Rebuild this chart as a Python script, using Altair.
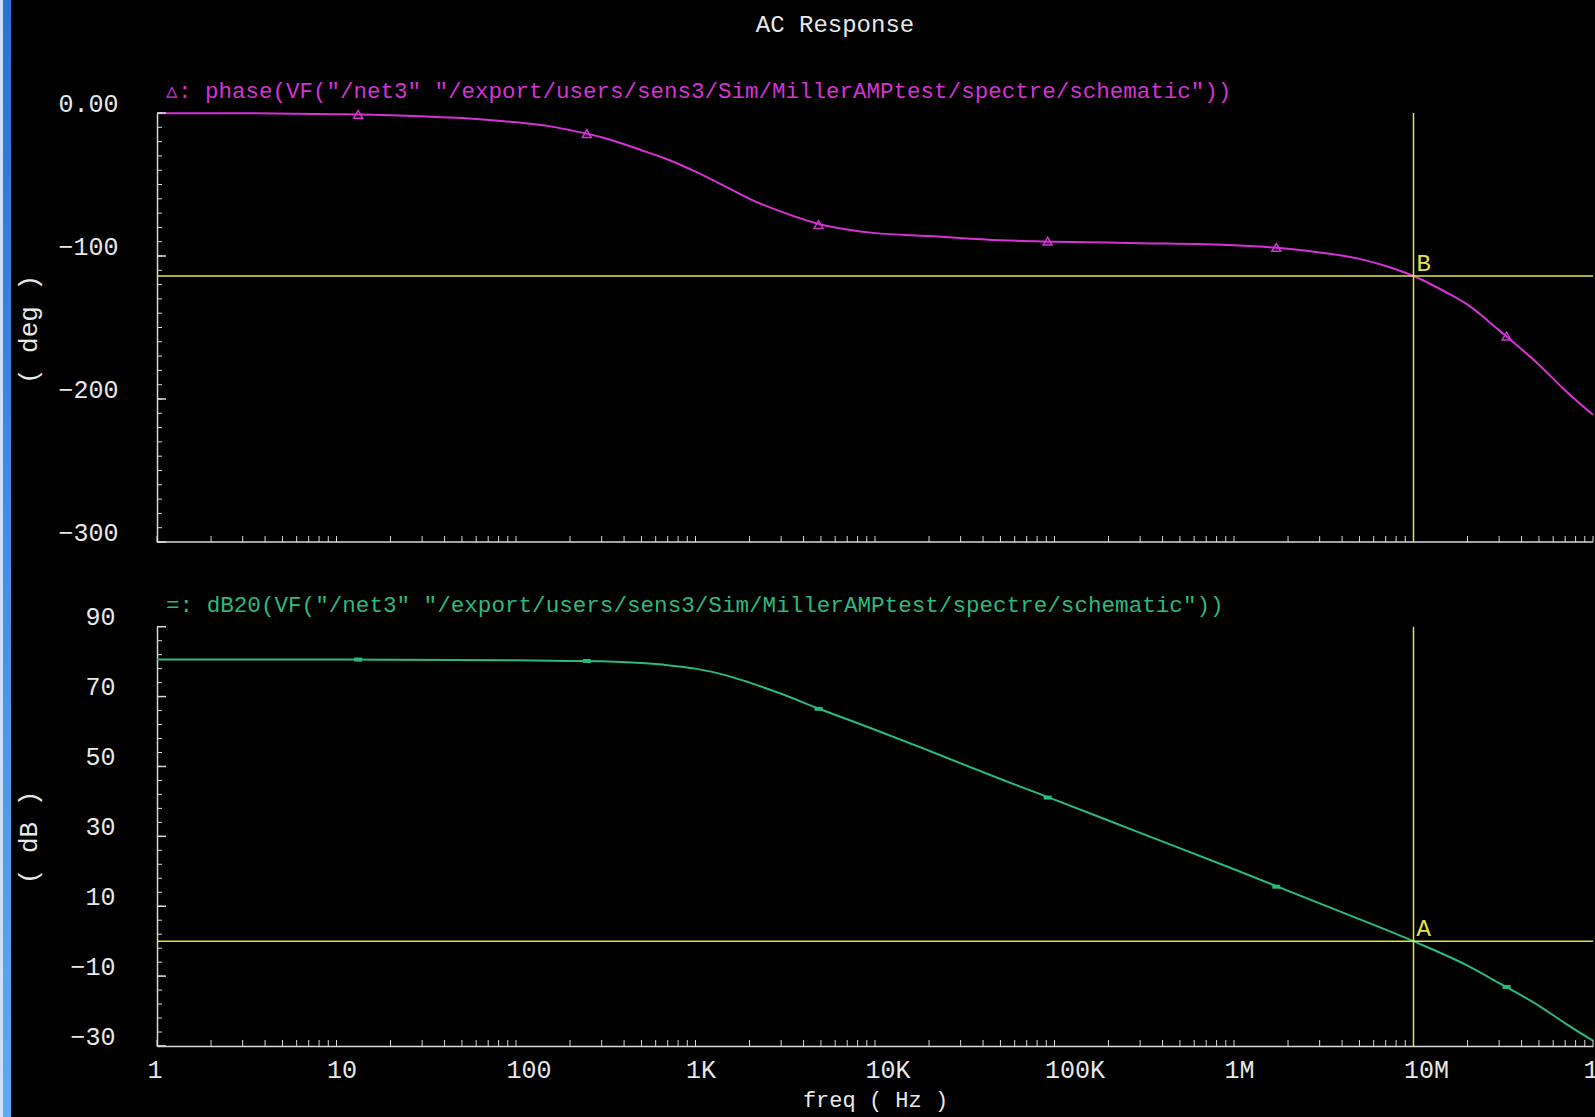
import altair as alt
import pandas as pd

# ---------------- text ----------------
TITLE = "AC Response"
PHASE_LEGEND = '▵: phase(VF("/net3" "/export/users/sens3/Sim/MillerAMPtest/spectre/schematic"))'
DB_LEGEND = '=: dB20(VF("/net3" "/export/users/sens3/Sim/MillerAMPtest/spectre/schematic"))'
X_TITLE = "freq ( Hz )"
PHASE_TITLE = "( deg )"
DB_TITLE = "( dB )"

# ---------------- data ----------------
phase_freq = [1, 3, 10, 20, 30, 50, 100, 150, 200, 300, 500, 700, 1000, 1500, 2000,
              3000, 5000, 7000, 10000, 20000, 50000, 100000, 300000, 1e6, 2e6, 3e6,
              5e6, 7e6, 1e7, 1.5e7, 2e7, 3e7, 5e7, 7e7, 1e8]
phase_deg = [-0.1, -0.2, -0.8, -1.5, -2.3, -3.5, -6.5, -9, -12, -17, -26, -32.5, -41, -52, -60,
             -69, -78, -81.5, -84, -86, -89, -90, -91, -92.5, -95, -97.5,
             -102, -107, -114, -125, -134, -152, -176, -194, -211]

db_freq = [1, 10, 100, 200, 300, 500, 700, 1000, 1500, 2000, 3000, 5000, 7000, 10000,
           20000, 50000, 100000, 300000, 1e6, 3e6, 1e7, 2e7, 3e7, 5e7, 7e7, 1e8]
db_val = [80.6, 80.6, 80.4, 80.2, 80.1, 79.6, 79.0, 78.0, 76.0, 74.0, 70.8, 66.3, 63.5, 60.5,
          54.5, 46.4, 40.5, 31.0, 20.6, 10.8, 0.0, -7.0, -12.0, -18.5, -23.5, -28.5]

marker_freq = [13.2, 248, 4850, 91600, 1.72e6, 3.3e7]
phase_marker = [-0.9, -14.5, -78, -89.6, -94, -156]
db_marker = [80.6, 80.2, 66.5, 41.1, 15.6, -13.1]

x_tick_values = [1, 10, 100, 1000, 10000, 100000, 1000000, 10000000, 100000000]
x_tick_labels = ["1", "10", "100", "1K", "10K", "100K", "1M", "10M", "100M"]
phase_tick_values = [0, -100, -200, -300]
phase_tick_labels = ["0.00", "−100", "−200", "−300"]
db_tick_values = [90, 70, 50, 30, 10, -10, -30]
db_tick_labels = ["90", "70", "50", "30", "10", "−10", "−30"]

x_minor = [m * 10 ** k for k in range(8) for m in range(1, 10)] + [100000000]
phase_minor = list(range(-300, 1, 10))
db_minor = list(range(-30, 91, 4))

cursor_freq = 1e7
cursor_phase = -114
cursor_db = 0

# ---------------- style ----------------
W, H = 1436, 933
PH_BOTTOM = 429
DB_TOP = 513.7
MAG = "#d632d6"
GRN = "#2cba7c"
YEL = "#e4e44a"
AX = "#d8d8d8"
TXT = "#e8e8e8"
FONT = "Liberation Mono"


def expr_from(values, labels):
    parts = [f"datum.value == {v} ? '{l}'" for v, l in zip(values, labels)]
    return " : ".join(parts) + " : ''"


X_SCALE = alt.Scale(type="log", domain=[1, 1e8], nice=False)
PH_SCALE = alt.Scale(domain=[-300, 0], range=[PH_BOTTOM, 0], nice=False, zero=False)
DB_SCALE = alt.Scale(domain=[-30, 90], range=[H, DB_TOP], nice=False, zero=False)

X_AXIS = alt.Axis(values=x_tick_values, labelExpr=expr_from(x_tick_values, x_tick_labels),
                  title=X_TITLE, orient="bottom", ticks=False, grid=False, domainColor=AX,
                  domainWidth=1.5, labelColor=TXT, labelFont=FONT, labelFontSize=25,
                  labelAlign="left", labelOffset=-10, labelPadding=11, labelFlush=False,
                  labelOverlap=False, labelBound=False, titleColor=TXT, titleFont=FONT,
                  titleFontSize=22, titleFontWeight="normal", titleY=53,
                  titleBaseline="middle")

PH_AXIS = alt.Axis(values=phase_tick_values,
                   labelExpr=expr_from(phase_tick_values, phase_tick_labels),
                   title=PHASE_TITLE, orient="left", ticks=False, grid=False,
                   domainColor=AX, domainWidth=1.5, labelColor=TXT, labelFont=FONT,
                   labelFontSize=25, labelPadding=39, labelOffset=-10, labelOverlap=False,
                   titleColor=TXT, titleFont=FONT, titleFontSize=26,
                   titleFontWeight="normal", titleX=-129, titleY=216, titleAngle=270,
                   titleAlign="center", titleBaseline="middle")

DB_AXIS = alt.Axis(values=db_tick_values,
                   labelExpr=expr_from(db_tick_values, db_tick_labels),
                   title=DB_TITLE, orient="left", ticks=False, grid=False,
                   domainColor=AX, domainWidth=1.5, labelColor=TXT, labelFont=FONT,
                   labelFontSize=25, labelPadding=42, labelOffset=-10, labelOverlap=False,
                   titleColor=TXT, titleFont=FONT, titleFontSize=26,
                   titleFontWeight="normal", titleX=-129, titleY=724, titleAngle=270,
                   titleAlign="center", titleBaseline="middle")

phase_df = pd.DataFrame({"freq": phase_freq, "phase": phase_deg})
db_df = pd.DataFrame({"freq": db_freq, "db": db_val})
mk_df = pd.DataFrame({"freq": marker_freq, "phase": phase_marker, "db": db_marker})
one = pd.DataFrame({"k": [0]})

# ---------------- phase panel ----------------
ph_line = alt.Chart(phase_df).mark_line(color=MAG, strokeWidth=2, interpolate="monotone").encode(
    x=alt.X("freq:Q", scale=X_SCALE, axis=None),
    y=alt.Y("phase:Q", scale=PH_SCALE, axis=PH_AXIS),
)
ph_marks = alt.Chart(mk_df).mark_point(shape="triangle-up", filled=False, color=MAG,
                                         size=80, strokeWidth=1.5, opacity=1).encode(
    x=alt.X("freq:Q", scale=X_SCALE, axis=None),
    y=alt.Y("phase:Q", scale=PH_SCALE, axis=None),
)
ph_minor_ticks = alt.Chart(pd.DataFrame({"v": phase_minor})).mark_rule(color=AX, strokeWidth=1).encode(
    y=alt.Y("v:Q", scale=PH_SCALE, axis=None), x=alt.value(0), x2=alt.value(5))
ph_major_ticks = alt.Chart(pd.DataFrame({"v": phase_tick_values})).mark_rule(color=AX, strokeWidth=1.5).encode(
    y=alt.Y("v:Q", scale=PH_SCALE, axis=None), x=alt.value(0), x2=alt.value(9))
ph_x_ticks = alt.Chart(pd.DataFrame({"f": x_minor})).mark_rule(color=AX, strokeWidth=1).encode(
    x=alt.X("f:Q", scale=X_SCALE, axis=None), y=alt.value(PH_BOTTOM), y2=alt.value(PH_BOTTOM - 6))
ph_bottom = alt.Chart(one).mark_rule(color=AX, strokeWidth=1.5).encode(
    y=alt.Y(datum=-300, type="quantitative", scale=PH_SCALE, axis=None))
ph_hcursor = alt.Chart(one).mark_rule(color=YEL, strokeWidth=1.5).encode(
    y=alt.Y(datum=cursor_phase, type="quantitative", scale=PH_SCALE, axis=None))
ph_vcursor = alt.Chart(one).mark_rule(color=YEL, strokeWidth=1.5).encode(
    x=alt.X(datum=cursor_freq, type="quantitative", scale=X_SCALE, axis=None),
    y=alt.Y(datum=0, type="quantitative", scale=PH_SCALE, axis=None),
    y2=alt.Y2(datum=-300))
ph_label = alt.Chart(one).mark_text(color=YEL, font=FONT, fontSize=24, align="left",
                                    baseline="bottom", dx=3, dy=0).encode(
    x=alt.X(datum=cursor_freq, type="quantitative", scale=X_SCALE, axis=None),
    y=alt.Y(datum=cursor_phase, type="quantitative", scale=PH_SCALE, axis=None),
    text=alt.value("B"))
ph_legend = alt.Chart(one).mark_text(color=MAG, font=FONT, fontSize=22.5, align="left",
                                     baseline="middle").encode(
    x=alt.value(9), y=alt.value(-22.5), text=alt.value(PHASE_LEGEND))

# ---------------- dB panel ----------------
db_line = alt.Chart(db_df).mark_line(color=GRN, strokeWidth=2, interpolate="monotone").encode(
    x=alt.X("freq:Q", scale=X_SCALE, axis=X_AXIS),
    y=alt.Y("db:Q", scale=DB_SCALE, axis=DB_AXIS),
)
db_marks = alt.Chart(mk_df).mark_point(shape="M-1,-0.5L1,-0.5L1,0.5L-1,0.5Z", filled=True,
                                         color=GRN, size=64, opacity=1).encode(
    x=alt.X("freq:Q", scale=X_SCALE, axis=None),
    y=alt.Y("db:Q", scale=DB_SCALE, axis=None),
)
db_minor_ticks = alt.Chart(pd.DataFrame({"v": db_minor})).mark_rule(color=AX, strokeWidth=1).encode(
    y=alt.Y("v:Q", scale=DB_SCALE, axis=None), x=alt.value(0), x2=alt.value(5))
db_major_ticks = alt.Chart(pd.DataFrame({"v": db_tick_values})).mark_rule(color=AX, strokeWidth=1.5).encode(
    y=alt.Y("v:Q", scale=DB_SCALE, axis=None), x=alt.value(0), x2=alt.value(9))
db_x_ticks = alt.Chart(pd.DataFrame({"f": x_minor})).mark_rule(color=AX, strokeWidth=1).encode(
    x=alt.X("f:Q", scale=X_SCALE, axis=None), y=alt.value(H), y2=alt.value(H - 6))
db_hcursor = alt.Chart(one).mark_rule(color=YEL, strokeWidth=1.5).encode(
    y=alt.Y(datum=cursor_db, type="quantitative", scale=DB_SCALE, axis=None))
db_vcursor = alt.Chart(one).mark_rule(color=YEL, strokeWidth=1.5).encode(
    x=alt.X(datum=cursor_freq, type="quantitative", scale=X_SCALE, axis=None),
    y=alt.Y(datum=90, type="quantitative", scale=DB_SCALE, axis=None),
    y2=alt.Y2(datum=-30))
db_label = alt.Chart(one).mark_text(color=YEL, font=FONT, fontSize=24, align="left",
                                    baseline="bottom", dx=3, dy=0).encode(
    x=alt.X(datum=cursor_freq, type="quantitative", scale=X_SCALE, axis=None),
    y=alt.Y(datum=cursor_db, type="quantitative", scale=DB_SCALE, axis=None),
    text=alt.value("A"))
db_legend = alt.Chart(one).mark_text(color=GRN, font=FONT, fontSize=22.6, align="left",
                                     baseline="middle").encode(
    x=alt.value(9), y=alt.value(492), text=alt.value(DB_LEGEND))

# ---------------- decorations ----------------
title_mark = alt.Chart(one).mark_text(color=TXT, font=FONT, fontSize=24, align="center",
                                      baseline="middle").encode(
    x=alt.value(678), y=alt.value(-88.5), text=alt.value(TITLE))
stripe_light = alt.Chart(one).mark_rect(color="#cfe0f6").encode(
    x=alt.value(-157), x2=alt.value(-154), y=alt.value(-113), y2=alt.value(1004))
stripe_blue = alt.Chart(one).mark_rect(
    color=alt.LinearGradient(gradient="linear", x1=0, x2=0, y1=0, y2=1,
                             stops=[alt.GradientStop(color="#2a72d4", offset=0),
                                    alt.GradientStop(color="#5eaaf2", offset=1)])).encode(
    x=alt.value(-154), x2=alt.value(-146), y=alt.value(-113), y2=alt.value(1004))

chart = alt.layer(
    db_line, ph_line,
    stripe_light, stripe_blue, title_mark,
    ph_minor_ticks, ph_major_ticks, ph_x_ticks, ph_bottom, ph_hcursor, ph_vcursor,
    ph_marks, ph_label, ph_legend,
    db_minor_ticks, db_major_ticks, db_x_ticks, db_hcursor, db_vcursor,
    db_marks, db_label, db_legend,
).resolve_scale(y="independent").resolve_axis(x="independent", y="independent").properties(
    width=W, height=H,
    padding={"left": 157, "top": 113, "right": 2, "bottom": 71},
    autosize=alt.AutoSizeParams(type="none"),
    background="#000000",
).configure_view(stroke=None)

chart.save("out.html", embed_options={"renderer": "svg", "actions": False})
